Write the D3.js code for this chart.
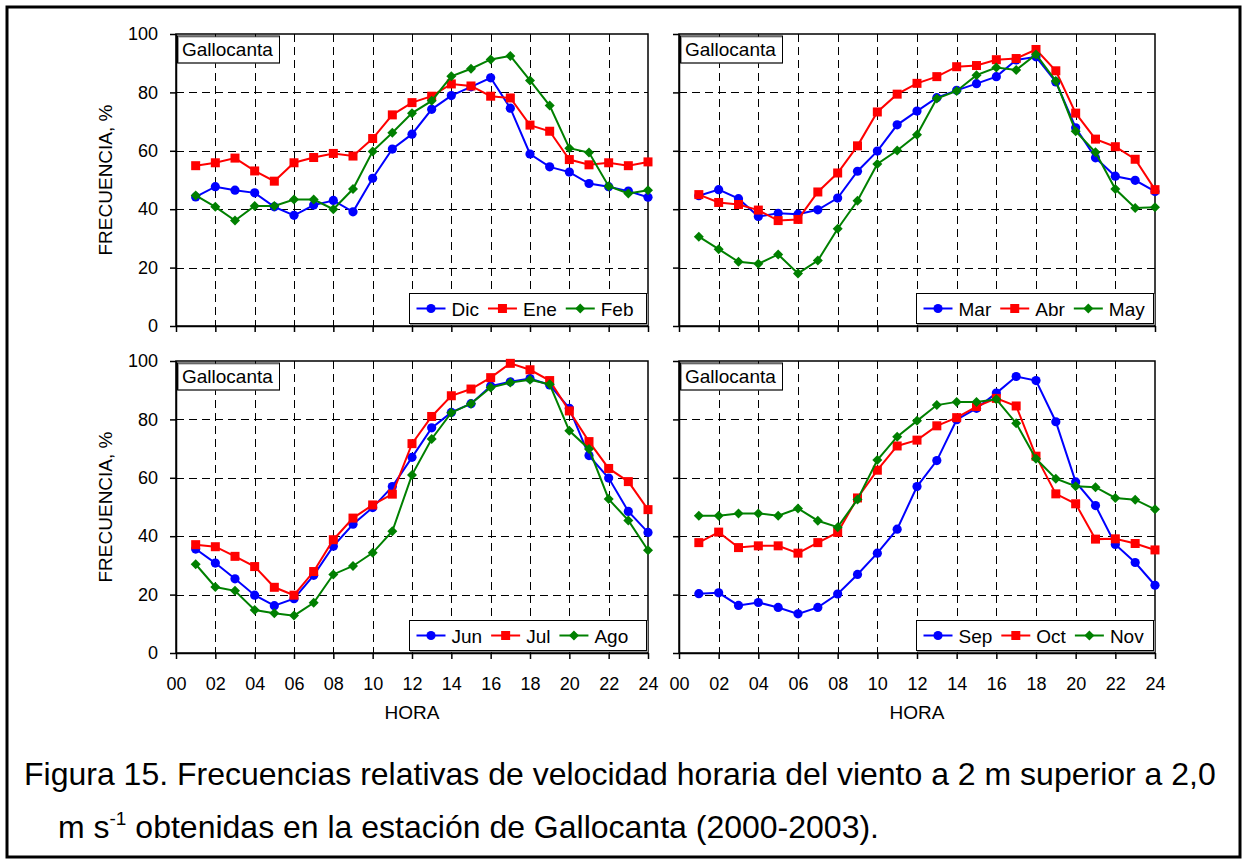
<!DOCTYPE html>
<html>
<head>
<meta charset="utf-8">
<script src="https://cdn.jsdelivr.net/npm/d3@7"></script>
<style>
body{margin:0;background:#fff;}
svg{display:block;font-family:"Liberation Sans",Arial,sans-serif;}
</style>
</head>
<body>
<script>
//hours of the day (x values)
var hours=[1,2,3,4,5,6,7,8,9,10,11,12,13,14,15,16,17,18,19,20,21,22,23,24];
var xTicks=[0,2,4,6,8,10,12,14,16,18,20,22,24];
var yTicks=[0,20,40,60,80,100];

//winter
var dic=[44.2,47.7,46.5,45.6,40.8,37.9,41.4,43.0,39.1,50.6,60.6,65.7,74.2,78.9,81.9,85.0,74.6,58.9,54.5,52.7,48.8,47.7,46.2,44.1];
var ene=[54.9,55.9,57.5,53.1,49.6,55.9,57.7,59.1,58.2,64.2,72.3,76.5,78.7,82.9,82.2,78.7,78.1,68.8,66.7,57.0,55.2,55.9,54.9,56.2];
var feb=[44.7,40.8,36.1,41.1,41.1,43.3,43.3,40.0,46.9,59.8,66.2,72.9,77.1,85.5,88.1,91.3,92.5,84.1,75.5,60.9,59.4,47.9,45.4,46.5];
//spring
var mar=[44.6,46.7,43.6,37.5,38.6,38.3,39.8,43.8,53.0,59.9,68.9,73.6,78.2,80.7,83.0,85.4,91.1,92.2,83.6,67.9,57.6,51.3,49.9,46.1];
var abr=[45.0,42.3,41.6,39.7,36.1,36.5,45.9,52.4,61.7,73.3,79.4,83.1,85.4,88.8,89.2,91.2,91.6,94.7,87.4,72.9,64.0,61.4,57.1,46.7];
var may=[30.6,26.3,22.0,21.3,24.5,18.0,22.4,33.3,42.9,55.5,60.1,65.5,77.9,80.5,85.9,88.5,87.7,93.0,83.9,66.7,59.5,46.9,40.4,40.7];
//summer
var jun=[35.6,30.8,25.4,19.8,16.2,18.6,26.6,36.6,44.1,49.8,57.0,67.0,77.1,82.4,85.4,91.4,92.9,94.0,91.8,83.8,67.6,59.9,48.5,41.3];
var jul=[37.1,36.4,33.1,29.6,22.5,19.8,27.9,38.8,46.2,50.7,54.4,71.7,81.0,88.1,90.4,94.3,99.2,97.0,93.3,82.9,72.4,63.2,58.7,49.1];
var ago=[30.4,22.6,21.3,14.7,13.6,12.8,17.2,26.9,29.8,34.3,41.7,61.0,73.3,82.3,85.4,90.9,92.6,93.6,92.0,76.1,69.9,52.7,45.4,35.2];
//autumn
var sep=[20.3,20.6,16.3,17.3,15.6,13.4,15.6,20.2,26.9,34.2,42.4,57.0,65.9,79.9,83.8,89.0,94.7,93.3,79.2,58.6,50.5,37.2,31.0,23.2];
var oct=[37.8,41.4,36.1,36.7,36.7,34.2,37.8,41.3,53.1,62.6,70.9,72.9,77.8,80.6,84.4,87.2,84.6,67.4,54.5,51.1,39.0,39.1,37.5,35.3];
var nov=[47.0,47.0,47.8,47.8,47.0,49.5,45.3,43.1,52.6,66.1,74.1,79.5,84.9,86.0,86.0,86.9,78.7,66.5,59.7,57.1,56.8,53.1,52.5,49.2];

var panelNames=[["Dic","Ene","Feb"],["Mar","Abr","May"],["Jun","Jul","Ago"],["Sep","Oct","Nov"]];
var panelValues=[[dic,ene,feb],[mar,abr,may],[jun,jul,ago],[sep,oct,nov]];

var colors=["#0000ff","#ff0000","#008000"];
var shapes=["circle","square","diamond"];

//page and panel frames
var width=1247,
	height=863;

var frames=[
	{x:176,y:34,w:472,h:292,xLab:false,yLab:true},
	{x:679,y:34,w:476,h:292,xLab:false,yLab:false},
	{x:176,y:361,w:472,h:292,xLab:true,yLab:true},
	{x:679,y:361,w:476,h:292,xLab:true,yLab:false}
];

var svg=d3.select("body")
	.append("svg")
	.attr("width",width)
	.attr("height",height);

svg.append("rect")
	.attr("width",width)
	.attr("height",height)
	.attr("fill","#fff");

//outer border
svg.append("rect")
	.attr("x",7)
	.attr("y",7)
	.attr("width",1233)
	.attr("height",850)
	.attr("fill","none")
	.attr("stroke","#000")
	.attr("stroke-width",3);

//marker drawing
function drawMarker(g,shape,cx,cy,color){
	if(shape=="circle"){
		g.append("circle").attr("cx",cx).attr("cy",cy).attr("r",4.6).attr("fill",color);
	}else if(shape=="square"){
		g.append("rect").attr("x",cx-4.5).attr("y",cy-4.5).attr("width",9).attr("height",9).attr("fill",color);
	}else{
		var s=5;
		g.append("path")
			.attr("d","M"+cx+","+(cy-s)+"L"+(cx+s)+","+cy+"L"+cx+","+(cy+s)+"L"+(cx-s)+","+cy+"Z")
			.attr("fill",color);
	}
}

frames.forEach(function(p,i){
	var g=svg.append("g");

	var x=d3.scaleLinear()
		.domain([0,24])
		.range([p.x,p.x+p.w]);
	var y=d3.scaleLinear()
		.domain([0,100])
		.range([p.y+p.h,p.y]);

	//dashed grid
	g.selectAll(".vgrid")
		.data(xTicks.slice(1,-1))
		.enter()
		.append("line")
		.attr("x1",function(d){return Math.round(x(d))+0.5;})
		.attr("x2",function(d){return Math.round(x(d))+0.5;})
		.attr("y1",p.y)
		.attr("y2",p.y+p.h)
		.attr("stroke","#000")
		.attr("stroke-width",1)
		.attr("stroke-dasharray","8,5");
	g.selectAll(".hgrid")
		.data(yTicks.slice(1,-1))
		.enter()
		.append("line")
		.attr("x1",p.x)
		.attr("x2",p.x+p.w)
		.attr("y1",function(d){return Math.round(y(d))+0.5;})
		.attr("y2",function(d){return Math.round(y(d))+0.5;})
		.attr("stroke","#000")
		.attr("stroke-width",1)
		.attr("stroke-dasharray","8,5");

	//plot frame
	g.append("rect")
		.attr("x",p.x)
		.attr("y",p.y)
		.attr("width",p.w)
		.attr("height",p.h)
		.attr("fill","none")
		.attr("stroke","#000")
		.attr("stroke-width",1.5);

	//axes
	var yAxis=d3.axisLeft(y)
		.tickValues(yTicks)
		.tickSize(6)
		.tickSizeOuter(0)
		.tickPadding(12)
		.tickFormat(p.yLab?d3.format("d"):"");
	var xAxis=d3.axisBottom(x)
		.tickValues(xTicks)
		.tickSize(6)
		.tickSizeOuter(0)
		.tickPadding(18)
		.tickFormat(p.xLab?d3.format("02d"):"");

	var ya=g.append("g")
		.attr("transform","translate("+p.x+",0)")
		.call(yAxis);
	var xa=g.append("g")
		.attr("transform","translate(0,"+(p.y+p.h)+")")
		.call(xAxis);
	[ya,xa].forEach(function(a){
		a.select(".domain").attr("stroke","#000").attr("stroke-width",1.5);
		a.selectAll(".tick line").attr("stroke","#000").attr("stroke-width",1.5);
		a.selectAll(".tick text")
			.attr("fill","#000")
			.style("font-size","18px")
			.style("font-family","'Liberation Sans',Arial,sans-serif");
	});

	//axis titles
	if(p.yLab){
		g.append("text")
			.attr("transform","translate(105,"+(p.y+p.h/2)+") rotate(-90)")
			.attr("text-anchor","middle")
			.attr("dominant-baseline","central")
			.style("font-size","19px")
			.text("FRECUENCIA, %");
	}
	if(p.xLab){
		g.append("text")
			.attr("x",p.x+p.w/2)
			.attr("y",719)
			.attr("text-anchor","middle")
			.style("font-size","19px")
			.text("HORA");
	}

	//series lines and markers
	panelValues[i].forEach(function(vals,k){
		var line=d3.line()
			.x(function(d,j){return x(hours[j]);})
			.y(function(d){return y(d);});
		g.append("path")
			.datum(vals)
			.attr("d",line)
			.attr("fill","none")
			.attr("stroke",colors[k])
			.attr("stroke-width",2);
		var mg=g.append("g");
		vals.forEach(function(v,j){
			drawMarker(mg,shapes[k],x(hours[j]),y(v),colors[k]);
		});
	});

	//station label box
	g.append("rect")
		.attr("x",p.x+2.5)
		.attr("y",p.y+3)
		.attr("width",101)
		.attr("height",26)
		.attr("fill","#fff")
		.attr("stroke","#999")
		.attr("stroke-width",1);
	g.append("rect")
		.attr("x",p.x+1.5)
		.attr("y",p.y+2)
		.attr("width",102)
		.attr("height",27)
		.attr("fill","none")
		.attr("stroke","#000")
		.attr("stroke-width",1);
	g.append("text")
		.attr("x",p.x+6)
		.attr("y",p.y+22)
		.style("font-size","19px")
		.text("Gallocanta");

	//legend
	var bw=237,bh=30;
	var bx=p.x+p.w-1.5-bw,
		by=p.y+p.h-2.5-bh;
	var lg=g.append("g");
	lg.append("rect")
		.attr("x",bx+1)
		.attr("y",by+1)
		.attr("width",bw)
		.attr("height",bh)
		.attr("fill","none")
		.attr("stroke","#999")
		.attr("stroke-width",1);
	lg.append("rect")
		.attr("x",bx)
		.attr("y",by)
		.attr("width",bw)
		.attr("height",bh)
		.attr("fill","#fff")
		.attr("stroke","#000")
		.attr("stroke-width",1);
	var cx=bx+7,
		cy=by+bh/2;
	panelNames[i].forEach(function(name,k){
		lg.append("line")
			.attr("x1",cx)
			.attr("x2",cx+29)
			.attr("y1",cy)
			.attr("y2",cy)
			.attr("stroke",colors[k])
			.attr("stroke-width",2);
		drawMarker(lg,shapes[k],cx+14.5,cy,colors[k]);
		var t=lg.append("text")
			.attr("x",cx+35)
			.attr("y",cy+7)
			.style("font-size","19px")
			.text(name);
		cx=cx+35+t.node().getComputedTextLength()+9;
	});
});

//caption
svg.append("text")
	.attr("x",24)
	.attr("y",785)
	.style("font-size","32px")
	.text("Figura 15. Frecuencias relativas de velocidad horaria del viento a 2 m superior a 2,0");
var cap2=svg.append("text")
	.attr("x",58)
	.attr("y",838)
	.style("font-size","32px");
cap2.append("tspan").text("m s");
cap2.append("tspan")
	.attr("dy",-13)
	.style("font-size","19px")
	.text("-1");
cap2.append("tspan")
	.attr("dy",13)
	.text(" obtenidas en la estación de Gallocanta (2000-2003).");
</script>
</body>
</html>
